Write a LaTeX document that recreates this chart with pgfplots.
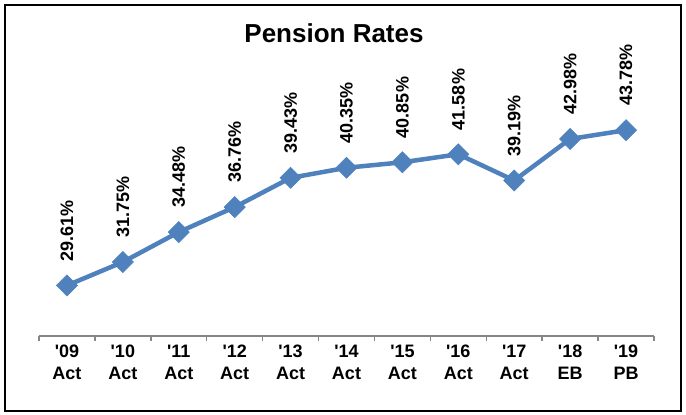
\documentclass[border=0pt]{standalone}
\usepackage{pgfplots}
\pgfplotsset{compat=1.18}
\usepackage{fontspec}
\setmainfont{Liberation Sans}
\definecolor{lineblue}{HTML}{4F81BD}
\definecolor{axisgray}{HTML}{868686}
\begin{document}
\begin{tikzpicture}[x=1pt,y=1pt]
% page = 686 x 415, origin at the plot area's lower left (image px 39,336)
\useasboundingbox (-39,-79) rectangle (647,336);
\draw[line width=2.2pt] (-34,-75) rectangle (642,331);
\node[font=\bfseries\fontsize{26}{30}\selectfont, anchor=base] at (295,293) {Pension Rates};
\begin{axis}[
    at={(0,0)}, anchor=south west,
    scale only axis,
    width=615pt, height=274pt,
    xmin=-0.5, xmax=10.5,
    ymin=25, ymax=50,
    axis y line=none,
    axis x line*=bottom,
    x axis line style={draw=axisgray, line width=1.5pt, -},
    xtick={0,...,10},
    xticklabels={{\textquotesingle09\\Act},{\textquotesingle10\\Act},{\textquotesingle11\\Act},{\textquotesingle12\\Act},{\textquotesingle13\\Act},{\textquotesingle14\\Act},{\textquotesingle15\\Act},{\textquotesingle16\\Act},{\textquotesingle17\\Act},{\textquotesingle18\\EB},{\textquotesingle19\\PB}},
    major tick length=0pt,
    minor xtick={-0.5,0.5,...,10.5},
    minor tick length=5pt,
    tick align=outside,
    minor tick style={draw=axisgray, line width=1.5pt},
    xticklabel style={align=center, font=\bfseries\fontsize{18}{22}\selectfont, inner sep=0pt, yshift=-9pt},
    clip=false,
    nodes near coords={\pgfmathprintnumber[fixed,precision=2,fixed zerofill,assume math mode=true]{\pgfplotspointmeta}\%},
    every node near coord/.append style={font=\bfseries\fontsize{18}{20}\selectfont, black, yshift=24pt, rotate=90, anchor=west, inner sep=0pt},
]
\addplot[lineblue, line width=4.5pt, mark=square*, mark size=7.5pt,
    mark options={rotate=45, fill=lineblue, draw=lineblue, line width=0.5pt}]
    table[x=x, y=y] {
x y
0 29.61
1 31.75
2 34.48
3 36.76
4 39.43
5 40.35
6 40.85
7 41.58
8 39.19
9 42.98
10 43.78
};
\end{axis}
\end{tikzpicture}
\end{document}
